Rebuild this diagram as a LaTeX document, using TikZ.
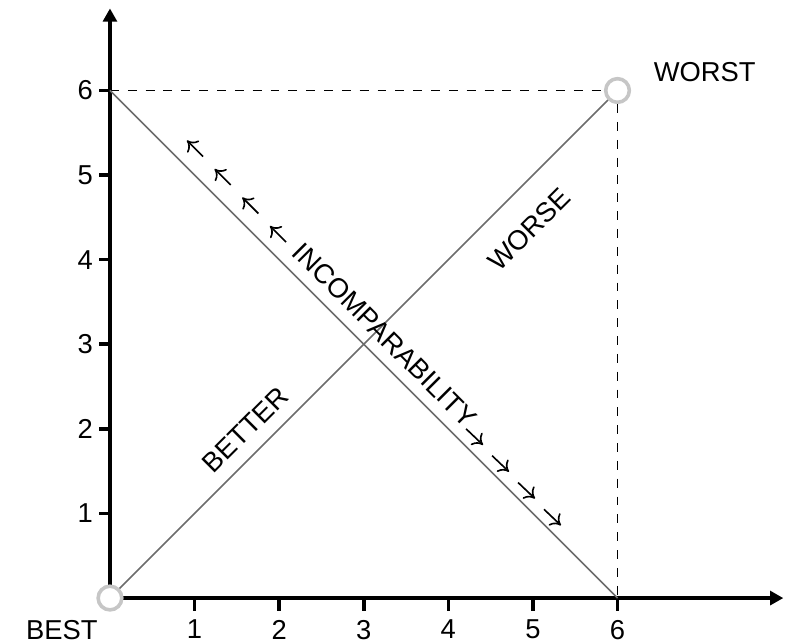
\documentclass[tikz,border=0pt]{standalone}
\usepackage{fontspec}
\setmainfont{Liberation Sans}
\usetikzlibrary{arrows.meta}

\begin{document}
\begin{tikzpicture}[
    axis/.style={line width=1.4pt, -{Triangle[length=4.4pt, width=4.6pt]}},
    tick/.style={line width=1.2pt},
    diag/.style={gray!85!black, line width=0.5pt},
    guide/.style={dashed, line width=0.45pt},
    endpt/.style={circle, draw=gray!45, line width=1.2pt, fill=white, inner sep=0pt, minimum size=0.28cm},
    lbl/.style={font=\fontsize{9.2}{11}\selectfont},
    hint/.style={line width=0.55pt, -{To[length=3.2pt, width=5.6pt]}}]
        \useasboundingbox (-1.30,-0.53) rectangle (7.98,7.07);
        \coordinate (origin) at (0,0);
        \coordinate (ytop) at (0,6.97);
        \coordinate (xend) at (7.96,0);
        \coordinate (ysix) at (0,6);
        \coordinate (xsix) at (6,0);
        % axes and ticks
        \draw[axis] (origin) -- (ytop);
        \draw[axis] (origin) -- (xend);
        \foreach \k in {1,...,6} {
            \draw[tick] (\k,0) -- (\k,-0.15) node[lbl, below, inner sep=2.5pt] {\k};
            \draw[tick] (0,\k) -- (-0.13,\k) node[lbl, left, inner sep=1.5pt] {\k};
        }
        % end points
        \node[endpt] (best) at (0,0) {};
        \node[endpt] (worst) at (6,6) {};
        \node[lbl] (bestlbl) at (-0.57,-0.38) {BEST};
        \node[lbl] (worstlbl) at (7.03,6.22) {WORST};
        % lines
        \draw[guide] (ysix) -- (worst);
        \draw[guide] (worst) -- (xsix);
        \draw[diag] (best) -- (worst);
        \draw[diag] (ysix) -- (xsix);
        \node[lbl, rotate=45] (better) at (1.60,1.99) {BETTER};
        \node[lbl, rotate=45] (worse) at (4.96,4.36) {WORSE};
        \node[lbl, rotate=-45] (incomp) at (3.25,3.11) {INCOMPARABILITY};
        % incomparability arrows
        \foreach \i in {0,...,3} {
            \draw[hint] (1.10+0.327*\i, 5.22-0.337*\i) -- ++(-0.19,0.19);
            \draw[hint] (4.21+0.307*\i, 2.00-0.317*\i) -- ++(0.20,-0.19);
        }
\end{tikzpicture}
\end{document}
